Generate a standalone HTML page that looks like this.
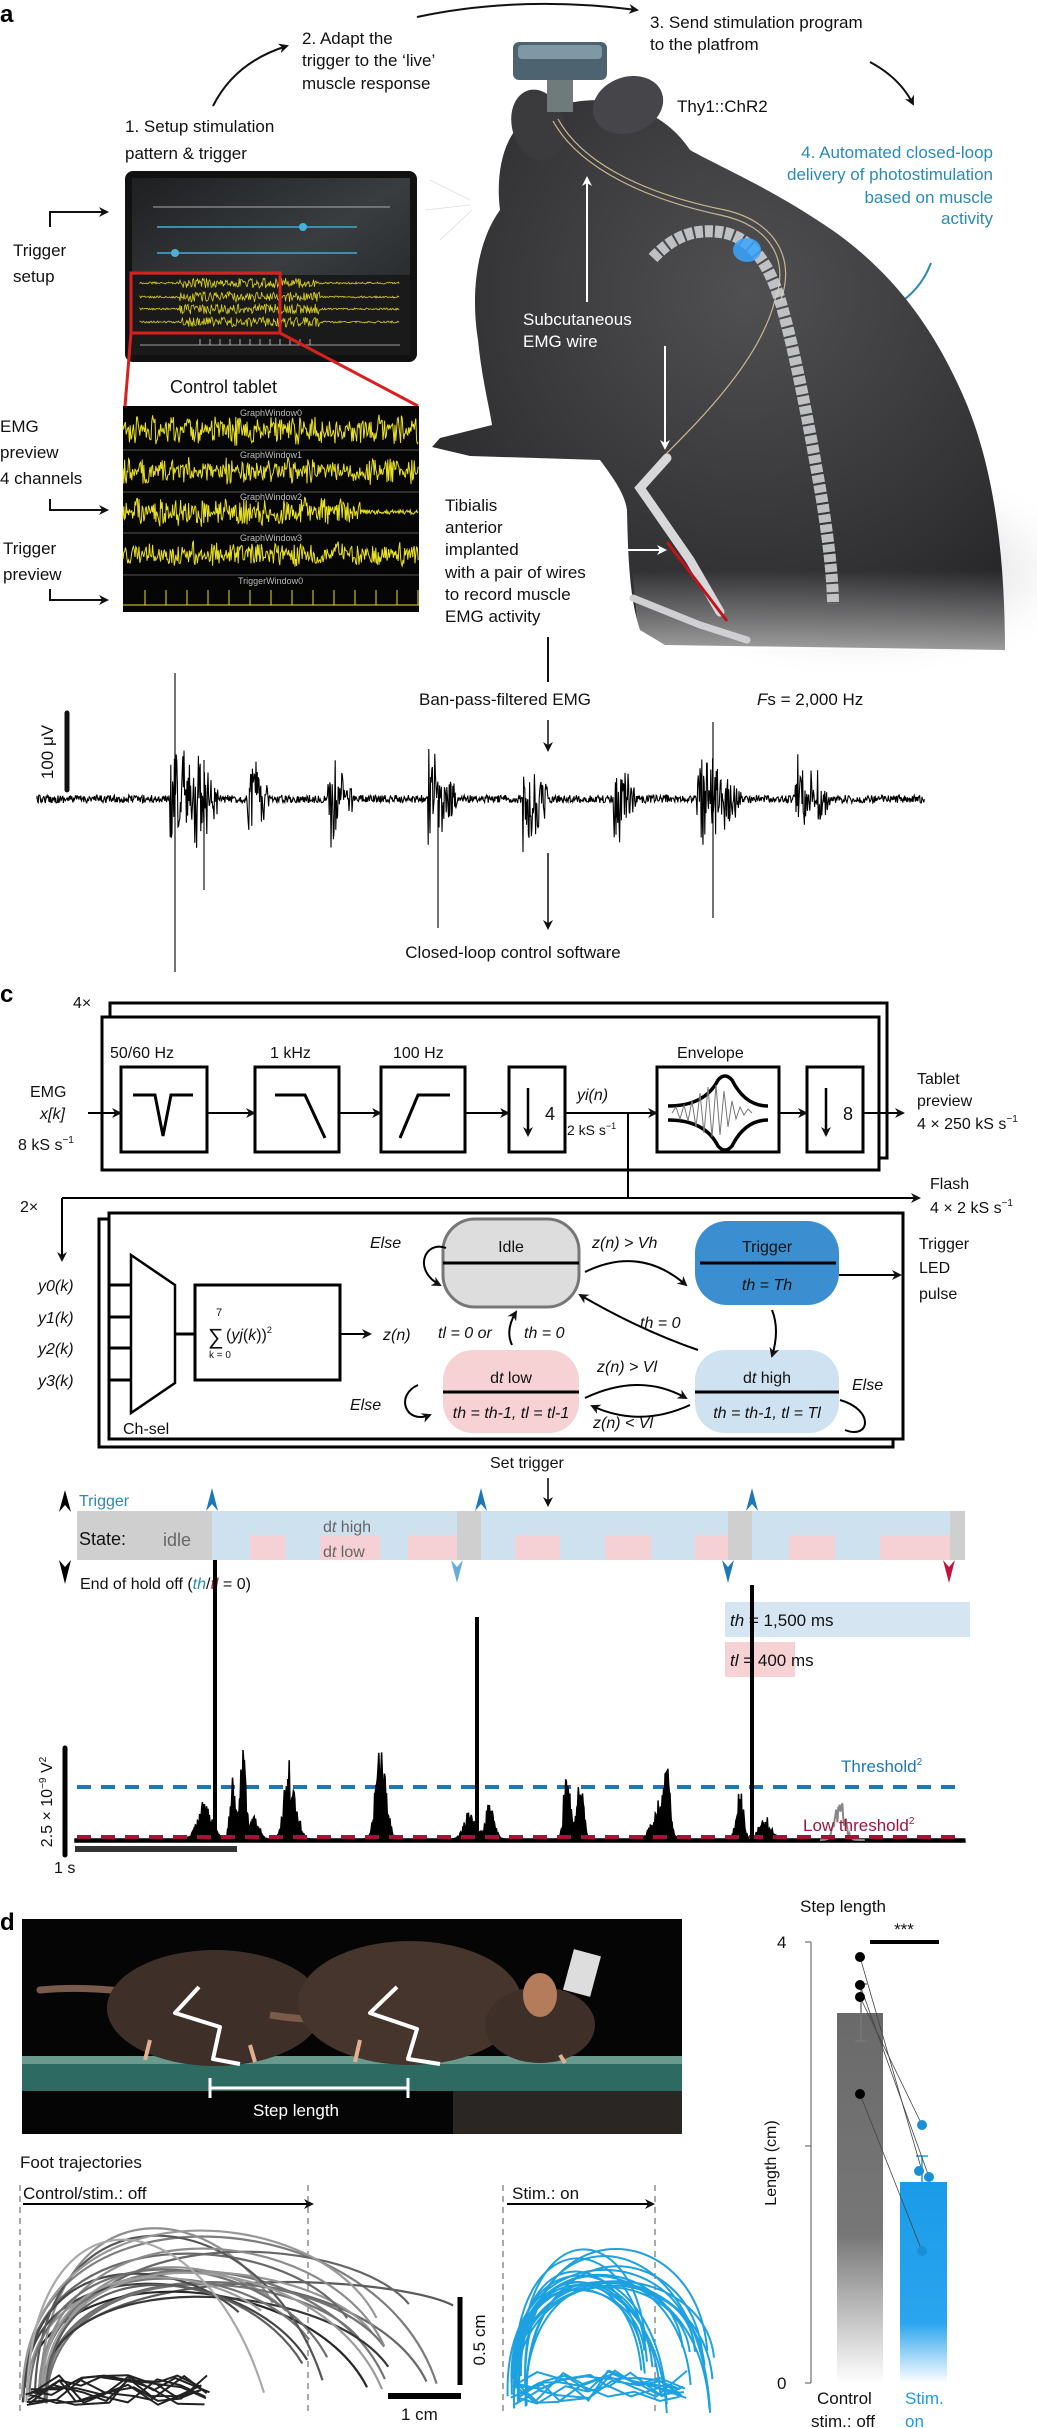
<!DOCTYPE html>
<html><head><meta charset="utf-8">
<style>
html,body{margin:0;padding:0;background:#fff;}
svg{display:block;}
text{font-family:"Liberation Sans Narrow","Liberation Sans",sans-serif;}
.t{font-size:17px;fill:#111;}
.s{font-size:16px;fill:#111;}
.i{font-style:italic;}
</style></head><body>
<svg id="S" width="1037" height="2428" viewBox="0 0 1037 2428" xmlns="http://www.w3.org/2000/svg">
<defs>
<marker id="ah" markerWidth="10" markerHeight="10" refX="8" refY="5" orient="auto" markerUnits="userSpaceOnUse"><path d="M0,0 L10,5 L0,10 L3,5 Z" fill="#111"/></marker>
<marker id="ahw" markerWidth="10" markerHeight="10" refX="8" refY="5" orient="auto" markerUnits="userSpaceOnUse"><path d="M0,0 L10,5 L0,10 L3,5 Z" fill="#fff"/></marker>
<marker id="ahb" markerWidth="10" markerHeight="10" refX="8" refY="5" orient="auto" markerUnits="userSpaceOnUse"><path d="M0,0 L10,5 L0,10 L3,5 Z" fill="#2a8ab8"/></marker>
<radialGradient id="mg" cx="0.55" cy="0.35" r="0.75"><stop offset="0" stop-color="#505053"/><stop offset="0.7" stop-color="#323234"/><stop offset="1" stop-color="#222224"/></radialGradient>
<linearGradient id="fade" x1="0" y1="0" x2="0" y2="1"><stop offset="0.6" stop-color="#fff" stop-opacity="0"/><stop offset="1" stop-color="#fff" stop-opacity="0.55"/></linearGradient>
<radialGradient id="sh" cx="0.5" cy="0.5" r="0.5"><stop offset="0" stop-color="#777" stop-opacity="0.8"/><stop offset="1" stop-color="#fff" stop-opacity="0"/></radialGradient>
<linearGradient id="gb" x1="0" y1="0" x2="0" y2="1"><stop offset="0" stop-color="#6a6a6a"/><stop offset="0.6" stop-color="#777"/><stop offset="1" stop-color="#fff"/></linearGradient>
<linearGradient id="bb" x1="0" y1="0" x2="0" y2="1"><stop offset="0" stop-color="#1a9be8"/><stop offset="0.7" stop-color="#2aa5ee"/><stop offset="1" stop-color="#fff"/></linearGradient>
<linearGradient id="tab" x1="0" y1="0" x2="1" y2="1"><stop offset="0" stop-color="#1d1f21"/><stop offset="0.5" stop-color="#3a3d40"/><stop offset="1" stop-color="#1d1f21"/></linearGradient>
</defs>

<!-- ============ PANEL A ============ -->
<text x="0" y="22" style="font-size:24px;font-weight:bold;font-family:'Liberation Sans',sans-serif">a</text>
<path d="M417,17 Q520,-5 637,10" fill="none" stroke="#111" stroke-width="2" marker-end="url(#ah)"/>
<path d="M213,106 Q235,62 287,46" fill="none" stroke="#111" stroke-width="2" marker-end="url(#ah)"/>
<path d="M870,62 Q900,78 913,104" fill="none" stroke="#111" stroke-width="2" marker-end="url(#ah)"/>
<path d="M931,263 Q920,292 893,307" fill="none" stroke="#2a8ab8" stroke-width="2" marker-end="url(#ahb)"/>
<text class="t" x="650" y="28">3. Send stimulation program</text>
<text class="t" x="650" y="50">to the platfrom</text>
<text class="t" x="302" y="44">2. Adapt the</text>
<text class="t" x="302" y="66">trigger to the ‘live’</text>
<text class="t" x="302" y="89">muscle response</text>
<text class="t" x="125" y="132">1. Setup stimulation</text>
<text class="t" x="125" y="159">pattern &amp; trigger</text>

<ellipse cx="860" cy="570" rx="240" ry="110" fill="url(#sh)"/>
<path d="M530,118 C505,130 495,170 500,210 C478,240 470,290 478,340 C482,380 490,410 492,425 L440,438 L432,447 L470,456 L600,460 C615,480 625,495 627,510 C628,560 630,600 640,630 L665,645 L1005,650 C1005,560 995,470 965,400 C935,330 895,275 835,232 C775,190 722,168 690,150 C670,120 640,105 600,100 C570,100 545,108 530,118 Z" fill="url(#mg)"/>
<path d="M620,450 L1005,450 L1005,650 L640,650 Z" fill="url(#fade)"/>
<ellipse cx="538" cy="125" rx="26" ry="36" fill="#3b3b3e" transform="rotate(-15 538 125)"/>
<ellipse cx="628" cy="105" rx="36" ry="28" fill="#46464a" transform="rotate(-20 628 105)"/>
<path d="M470,200 L430,180 M470,205 L425,210 M472,210 L440,240" stroke="#ddd" stroke-width="0.8"/>
<path d="M553,121 C580,170 650,200 720,215 C770,225 790,260 775,300 C760,360 700,420 665,455" fill="none" stroke="#c8b890" stroke-width="1.2"/>
<path d="M558,119 C585,168 655,196 725,210 C778,222 796,262 780,302" fill="none" stroke="#c8b890" stroke-width="1.2"/>
<path d="M653,258 C670,240 690,228 720,232 C750,236 768,262 780,300 C795,350 810,430 822,500 C830,550 833,585 833,604" fill="none" stroke="#d5d6d8" stroke-width="12" stroke-dasharray="8 2" opacity="0.85"/>
<ellipse cx="747" cy="250" rx="14" ry="12" fill="#39a6ff" opacity="0.85"/>
<path d="M667,458 L640,488 L690,560 L720,612" fill="none" stroke="#d8d8da" stroke-width="9" stroke-linecap="round"/>
<path d="M633,598 L700,625 L747,640" fill="none" stroke="#d0d0d2" stroke-width="7" stroke-linecap="round"/>
<path d="M667,542 L727,621" stroke="#c0141c" stroke-width="3"/>
<rect x="547" y="76" width="26" height="36" fill="#6f7b7a"/>
<rect x="513" y="42" width="94" height="38" rx="6" fill="#4d6470"/>
<rect x="518" y="45" width="84" height="14" rx="4" fill="#7f98a4"/>
<text class="t" x="677" y="112">Thy1::ChR2</text>
<text class="t" x="993" y="158" text-anchor="end" style="fill:#2a8ab8">4. Automated closed-loop</text>
<text class="t" x="993" y="180" text-anchor="end" style="fill:#2a8ab8">delivery of photostimulation</text>
<text class="t" x="993" y="203" text-anchor="end" style="fill:#2a8ab8">based on muscle</text>
<text class="t" x="993" y="224" text-anchor="end" style="fill:#2a8ab8">activity</text>
<line x1="587" y1="302" x2="587" y2="178" stroke="#fff" stroke-width="2" marker-end="url(#ahw)"/>
<line x1="665" y1="346" x2="665" y2="448" stroke="#fff" stroke-width="2" marker-end="url(#ahw)"/>
<text class="t" x="523" y="325" style="fill:#fff">Subcutaneous</text>
<text class="t" x="523" y="347" style="fill:#fff">EMG wire</text>
<text class="t" x="445" y="511">Tibialis</text>
<text class="t" x="445" y="533">anterior</text>
<text class="t" x="445" y="555">implanted</text>
<text class="t" x="445" y="578">with a pair of wires</text>
<text class="t" x="445" y="600">to record muscle</text>
<text class="t" x="445" y="622">EMG activity</text>
<line x1="557" y1="550" x2="665" y2="550" stroke="#fff" stroke-width="2" marker-end="url(#ahw)"/>

<rect x="125" y="171" width="292" height="191" rx="8" fill="#111"/>
<rect x="132" y="178" width="278" height="177" fill="url(#tab)"/>
<line x1="153" y1="207" x2="390" y2="207" stroke="#aaa" stroke-width="1"/>
<line x1="157" y1="227" x2="357" y2="227" stroke="#3a8fb0" stroke-width="2"/>
<circle cx="303" cy="227" r="4" fill="#4ab0d8"/>
<line x1="157" y1="253" x2="357" y2="253" stroke="#3a8fb0" stroke-width="2"/>
<circle cx="175" cy="253" r="4" fill="#4ab0d8"/>
<rect x="132" y="275" width="278" height="80" fill="#1a1a1a"/>
<g id="tabw"></g>
<rect x="131" y="273" width="149" height="60" fill="none" stroke="#d82020" stroke-width="3"/>
<line x1="131" y1="333" x2="125" y2="406" stroke="#d82020" stroke-width="3"/>
<line x1="280" y1="333" x2="418" y2="406" stroke="#d82020" stroke-width="3"/>
<text class="t" x="170" y="393" style="font-size:18px">Control tablet</text>
<rect x="123" y="406" width="296" height="206" fill="#050505"/>
<g stroke="#555" stroke-width="1"><line x1="123" y1="450" x2="419" y2="450"/><line x1="123" y1="492" x2="419" y2="492"/><line x1="123" y1="533" x2="419" y2="533"/><line x1="123" y1="575" x2="419" y2="575"/></g>
<g id="emgp"></g>
<g><text x="240" y="416" style="font-size:9px;fill:#bbb">GraphWindow0</text><text x="240" y="458" style="font-size:9px;fill:#bbb">GraphWindow1</text><text x="240" y="500" style="font-size:9px;fill:#bbb">GraphWindow2</text><text x="240" y="541" style="font-size:9px;fill:#bbb">GraphWindow3</text><text x="238" y="584" style="font-size:9px;fill:#bbb">TriggerWindow0</text></g>
<path id="trg" fill="none" stroke="#e8e020" stroke-width="1"/>

<text class="t" x="13" y="256">Trigger</text>
<text class="t" x="13" y="282">setup</text>
<path d="M50,227 L50,212 L107,212" fill="none" stroke="#111" stroke-width="2" marker-end="url(#ah)"/>
<text class="t" x="0" y="432">EMG</text>
<text class="t" x="0" y="458">preview</text>
<text class="t" x="0" y="484">4 channels</text>
<path d="M50,499 L50,510 L107,510" fill="none" stroke="#111" stroke-width="2" marker-end="url(#ah)"/>
<text class="t" x="3" y="554">Trigger</text>
<text class="t" x="3" y="580">preview</text>
<path d="M50,589 L50,600 L107,600" fill="none" stroke="#111" stroke-width="2" marker-end="url(#ah)"/>

<line x1="548" y1="637" x2="548" y2="682" stroke="#111" stroke-width="2"/>
<text class="t" x="505" y="705" text-anchor="middle">Ban-pass-filtered EMG</text>
<text class="t" x="757" y="705"><tspan class="i">F</tspan>s = 2,000 Hz</text>
<line x1="548" y1="720" x2="548" y2="750" stroke="#111" stroke-width="1.5" marker-end="url(#ah)"/>
<line x1="67" y1="713" x2="67" y2="790" stroke="#111" stroke-width="5" stroke-linecap="round"/>
<text class="t" transform="translate(53,752) rotate(-90)" text-anchor="middle">100 μV</text>
<path id="emg" fill="none" stroke="#000" stroke-width="1.1"/>
<line x1="548" y1="853" x2="548" y2="928" stroke="#111" stroke-width="1.5" marker-end="url(#ah)"/>
<text class="t" x="513" y="958" text-anchor="middle">Closed-loop control software</text>

<!-- ============ PANEL C ============ -->
<text x="0" y="1002" style="font-size:24px;font-weight:bold;font-family:'Liberation Sans',sans-serif">c</text>
<text class="s" x="73" y="1008">4×</text>
<rect x="110" y="1003" width="777" height="155" fill="#fff" stroke="#000" stroke-width="3"/>
<rect x="102" y="1017" width="777" height="153" fill="#fff" stroke="#000" stroke-width="3"/>
<text class="s" x="110" y="1058">50/60 Hz</text>
<text class="s" x="270" y="1058">1 kHz</text>
<text class="s" x="393" y="1058">100 Hz</text>
<text class="s" x="677" y="1058">Envelope</text>
<text class="s" x="30" y="1097">EMG</text>
<text class="s i" x="40" y="1119">x[k]</text>
<text class="s" x="18" y="1150">8 kS s<tspan dy="-7" style="font-size:10px">−1</tspan></text>
<g fill="#fff" stroke="#000" stroke-width="3">
<rect x="121" y="1067" width="86" height="85"/><rect x="255" y="1067" width="84" height="85"/><rect x="381" y="1067" width="84" height="85"/><rect x="509" y="1067" width="56" height="85"/><rect x="657" y="1067" width="122" height="85"/><rect x="807" y="1067" width="56" height="85"/>
</g>
<g fill="none" stroke="#000" stroke-width="3">
<path d="M133,1095 L155,1095 L163,1136 L171,1095 L193,1095"/>
<path d="M275,1095 L305,1095 L325,1138"/>
<path d="M400,1138 L418,1095 L450,1095"/>
</g>
<line x1="528" y1="1088" x2="528" y2="1135" stroke="#000" stroke-width="2.5" marker-end="url(#ah)"/>
<text class="s" x="545" y="1120" style="font-size:18px">4</text>
<line x1="826" y1="1088" x2="826" y2="1135" stroke="#000" stroke-width="2.5" marker-end="url(#ah)"/>
<text class="s" x="843" y="1120" style="font-size:18px">8</text>
<path d="M668,1106 Q705,1106 718,1080 Q725,1072 732,1080 Q745,1106 768,1106 M668,1120 Q705,1120 718,1146 Q725,1154 732,1146 Q745,1120 768,1120" fill="none" stroke="#000" stroke-width="3.5"/>
<path d="M672,1113 l4,-6 l4,12 l4,-14 l4,16 l4,-20 l4,26 l4,-34 l4,40 l4,-46 l4,50 l4,-52 l4,50 l4,-44 l4,36 l4,-26 l4,18 l4,-12 l4,8 l4,-6 l4,4" fill="none" stroke="#777" stroke-width="1"/>
<g stroke="#000" stroke-width="2" fill="none">
<line x1="88" y1="1113" x2="120" y2="1113" marker-end="url(#ah)"/>
<line x1="207" y1="1113" x2="254" y2="1113" marker-end="url(#ah)"/>
<line x1="339" y1="1113" x2="380" y2="1113" marker-end="url(#ah)"/>
<line x1="465" y1="1113" x2="508" y2="1113" marker-end="url(#ah)"/>
<line x1="565" y1="1113" x2="656" y2="1113" marker-end="url(#ah)"/>
<line x1="779" y1="1113" x2="806" y2="1113" marker-end="url(#ah)"/>
<line x1="863" y1="1113" x2="903" y2="1113" marker-end="url(#ah)"/>
<path d="M628,1113 L628,1198"/>
<line x1="62" y1="1198" x2="919" y2="1198" marker-end="url(#ah)"/>
<line x1="62" y1="1198" x2="62" y2="1260" marker-end="url(#ah)"/>
</g>
<text class="s i" x="577" y="1100">yi(n)</text>
<text class="s" x="567" y="1135" style="font-size:14px">2 kS s<tspan dy="-6" style="font-size:9px">−1</tspan></text>
<text class="s" x="917" y="1084">Tablet</text>
<text class="s" x="917" y="1106">preview</text>
<text class="s" x="917" y="1129">4 × 250 kS s<tspan dy="-7" style="font-size:10px">−1</tspan></text>
<text class="s" x="20" y="1212">2×</text>
<text class="s" x="930" y="1189">Flash</text>
<text class="s" x="930" y="1213">4 × 2 kS s<tspan dy="-7" style="font-size:10px">−1</tspan></text>
<rect x="99" y="1219" width="794" height="228" fill="#fff" stroke="#000" stroke-width="3"/>
<rect x="109" y="1213" width="794" height="226" fill="#fff" stroke="#000" stroke-width="3"/>
<path d="M131,1255 L175,1285 L175,1383 L131,1413 Z" fill="#fff" stroke="#000" stroke-width="2.5"/>
<g stroke="#000" stroke-width="3"><line x1="109" y1="1285" x2="131" y2="1285"/><line x1="109" y1="1317" x2="131" y2="1317"/><line x1="109" y1="1348" x2="131" y2="1348"/><line x1="109" y1="1380" x2="131" y2="1380"/><line x1="175" y1="1334" x2="195" y2="1334"/></g>
<text class="s i" x="38" y="1291">y0(k)</text>
<text class="s i" x="38" y="1323">y1(k)</text>
<text class="s i" x="38" y="1354">y2(k)</text>
<text class="s i" x="38" y="1386">y3(k)</text>
<text class="s" x="123" y="1434">Ch-sel</text>
<rect x="195" y="1285" width="145" height="95" fill="#fff" stroke="#000" stroke-width="3"/>
<text class="s" x="216" y="1316" style="font-size:11px">7</text>
<text class="s" x="208" y="1344" style="font-size:22px">∑</text><text class="s" x="226" y="1340">(<tspan class="i">yj</tspan>(<tspan class="i">k</tspan>))<tspan dy="-7" style="font-size:9px">2</tspan></text>
<text class="s" x="209" y="1358" style="font-size:10px">k = 0</text>
<line x1="340" y1="1334" x2="370" y2="1334" stroke="#000" stroke-width="2" marker-end="url(#ah)"/>
<text class="s i" x="383" y="1340">z(n)</text>
<rect x="443" y="1219" width="136" height="88" rx="32" fill="#ddd" stroke="#777" stroke-width="3"/>
<line x1="443" y1="1263" x2="579" y2="1263" stroke="#000" stroke-width="3"/>
<text class="s" x="511" y="1252" text-anchor="middle">Idle</text>
<rect x="695" y="1221" width="144" height="84" rx="32" fill="#3b8fd0"/>
<line x1="700" y1="1263" x2="836" y2="1263" stroke="#000" stroke-width="3"/>
<text class="s" x="767" y="1252" text-anchor="middle">Trigger</text>
<text class="s i" x="767" y="1290" text-anchor="middle">th = Th</text>
<rect x="443" y="1350" width="136" height="83" rx="30" fill="#f7d2d5"/>
<line x1="443" y1="1392" x2="579" y2="1392" stroke="#000" stroke-width="3"/>
<text class="s" x="511" y="1383" text-anchor="middle">d<tspan class="i">t</tspan> low</text>
<text class="s i" x="511" y="1418" text-anchor="middle">th = th-1, tl = tl-1</text>
<rect x="695" y="1350" width="144" height="83" rx="30" fill="#cfe2f2"/>
<line x1="695" y1="1392" x2="839" y2="1392" stroke="#000" stroke-width="3"/>
<text class="s" x="767" y="1383" text-anchor="middle">d<tspan class="i">t</tspan> high</text>
<text class="s i" x="767" y="1418" text-anchor="middle">th = th-1, tl = Tl</text>
<g fill="none" stroke="#000" stroke-width="2">
<path d="M446,1248 C425,1240 412,1270 440,1285" marker-end="url(#ah)"/>
<path d="M585,1272 Q640,1245 686,1285" marker-end="url(#ah)"/>
<path d="M772,1310 Q780,1330 772,1356" marker-end="url(#ah)"/>
<path d="M698,1350 Q640,1330 580,1295" marker-end="url(#ah)"/>
<path d="M512,1345 Q505,1330 516,1312" marker-end="url(#ah)"/>
<path d="M585,1398 Q640,1372 686,1398" marker-end="url(#ah)"/>
<path d="M690,1405 Q640,1428 592,1406" marker-end="url(#ah)"/>
<path d="M418,1385 C395,1395 405,1425 430,1415" marker-end="url(#ah)"/>
<path d="M840,1400 C875,1410 870,1440 845,1430"/>
<line x1="839" y1="1275" x2="900" y2="1275" marker-end="url(#ah)"/>
</g>
<text class="s i" x="370" y="1248">Else</text>
<text class="s i" x="592" y="1248">z(n) &gt; Vh</text>
<text class="s i" x="640" y="1328">th = 0</text>
<text class="s i" x="438" y="1338">tl = 0 or</text>
<text class="s i" x="524" y="1338">th = 0</text>
<text class="s i" x="597" y="1372">z(n) &gt; Vl</text>
<text class="s i" x="593" y="1428">z(n) &lt; Vl</text>
<text class="s i" x="852" y="1390">Else</text>
<text class="s i" x="350" y="1410">Else</text>
<text class="s" x="919" y="1249">Trigger</text>
<text class="s" x="919" y="1273">LED</text>
<text class="s" x="919" y="1299">pulse</text>
<text class="s" x="490" y="1468">Set trigger</text>
<line x1="548" y1="1478" x2="548" y2="1505" stroke="#000" stroke-width="1.5" marker-end="url(#ah)"/>

<rect x="77" y="1511" width="888" height="49" fill="#cde1ee"/>
<g fill="#cfcfcf"><rect x="77" y="1511" width="135" height="49"/><rect x="457" y="1511" width="24" height="49"/><rect x="728" y="1511" width="24" height="49"/><rect x="950" y="1511" width="15" height="49"/></g>
<g fill="#f5d0d4"><rect x="250" y="1535" width="35" height="25"/><rect x="320" y="1535" width="60" height="25"/><rect x="408" y="1535" width="49" height="25"/><rect x="515" y="1535" width="45" height="25"/><rect x="605" y="1535" width="46" height="25"/><rect x="695" y="1535" width="33" height="25"/><rect x="789" y="1535" width="46" height="25"/><rect x="880" y="1535" width="70" height="25"/></g>
<text class="s" x="79" y="1545" style="font-size:18px">State:</text>
<text class="s" x="163" y="1546" style="fill:#666;font-size:18px">idle</text>
<text class="s" x="323" y="1532" style="fill:#666">d<tspan class="i">t</tspan> high</text>
<text class="s" x="323" y="1557" style="fill:#666">d<tspan class="i">t</tspan> low</text>
<text class="s" x="79" y="1506" style="fill:#2a8ab8">Trigger</text>
<g id="arrs"></g>
<text class="s" x="80" y="1589">End of hold off (<tspan class="i" style="fill:#2a8ab8">th</tspan>/<tspan class="i" style="fill:#c0143c">tl</tspan> = 0)</text>
<rect x="725" y="1602" width="245" height="35" fill="#d5e6f2"/>
<rect x="725" y="1642" width="70" height="35" fill="#f7d2d5"/>
<text class="s i" x="730" y="1626" style="font-size:17px">th<tspan style="font-style:normal"> = 1,500 ms</tspan></text>
<text class="s i" x="730" y="1666" style="font-size:17px">tl<tspan style="font-style:normal"> = 400 ms</tspan></text>
<line x1="77" y1="1787" x2="965" y2="1787" stroke="#1a78b8" stroke-width="4" stroke-dasharray="14 10"/>
<path id="env" fill="#000" stroke="#000" stroke-width="1.5"/>
<path id="envg" fill="none" stroke="#888" stroke-width="2"/>
<line x1="77" y1="1837" x2="965" y2="1837" stroke="#a0143c" stroke-width="4" stroke-dasharray="14 10"/>
<g stroke="#000" stroke-width="4"><line x1="215" y1="1840" x2="215" y2="1560"/><line x1="477" y1="1840" x2="477" y2="1617"/><line x1="752" y1="1840" x2="752" y2="1585"/></g>
<text class="s" x="841" y="1772" style="fill:#1a78b8;font-size:17px">Threshold<tspan dy="-7" style="font-size:10px">2</tspan></text>
<text class="s" x="803" y="1831" style="fill:#a0143c;font-size:17px">Low threshold<tspan dy="-7" style="font-size:10px">2</tspan></text>
<line x1="65" y1="1748" x2="65" y2="1855" stroke="#000" stroke-width="5" stroke-linecap="round"/>
<text class="s" transform="translate(52,1802) rotate(-90)" text-anchor="middle">2.5 × 10<tspan dy="-6" style="font-size:10px">−9</tspan><tspan dy="6"> V</tspan><tspan dy="-6" style="font-size:10px">2</tspan></text>
<line x1="75" y1="1849" x2="237" y2="1849" stroke="#333" stroke-width="6"/>
<text class="s" x="54" y="1873">1 s</text>

<!-- ============ PANEL D ============ -->
<text x="0" y="1930" style="font-size:24px;font-weight:bold;font-family:'Liberation Sans',sans-serif">d</text>
<rect x="22" y="1919" width="660" height="215" fill="#050505"/>
<rect x="22" y="2056" width="660" height="35" fill="#2c6a62"/>
<rect x="22" y="2056" width="660" height="8" fill="#6a9a8e"/>
<rect x="453" y="2091" width="229" height="43" fill="#2a2624"/>
<path d="M150,1995 Q90,1985 40,1990" stroke="#7a5a4a" stroke-width="7" fill="none" stroke-linecap="round"/>
<ellipse cx="215" cy="2008" rx="108" ry="58" fill="#3e3028"/>
<path d="M340,2020 Q300,2020 270,2015" stroke="#7a5a4a" stroke-width="7" fill="none"/>
<ellipse cx="410" cy="2003" rx="112" ry="62" fill="#45352c"/>
<ellipse cx="540" cy="2025" rx="55" ry="38" fill="#3e3028"/>
<ellipse cx="540" cy="1995" rx="17" ry="22" fill="#b47c5a"/>
<rect x="568" y="1952" width="28" height="42" fill="#ddd" transform="rotate(15 582 1973)"/>
<g stroke="#e2b090" stroke-width="4"><line x1="150" y1="2040" x2="145" y2="2060"/><line x1="250" y1="2045" x2="255" y2="2062"/><line x1="360" y1="2040" x2="355" y2="2062"/><line x1="560" y1="2055" x2="565" y2="2063"/></g>
<g fill="none" stroke="#fff" stroke-width="4" stroke-linejoin="round"><path d="M199,1987 L175,2013 L220,2027 L213,2059 L240,2064"/><path d="M397,1987 L370,2013 L417,2029 L408,2059 L440,2064"/></g>
<g stroke="#fff" stroke-width="3"><line x1="210" y1="2088" x2="408" y2="2088"/><line x1="210" y1="2078" x2="210" y2="2098"/><line x1="408" y1="2078" x2="408" y2="2098"/></g>
<text class="t" x="253" y="2116" style="fill:#fff">Step length</text>

<text class="t" x="20" y="2168">Foot trajectories</text>
<text class="t" x="23" y="2199">Control/stim.: off</text>
<line x1="23" y1="2204" x2="312" y2="2204" stroke="#000" stroke-width="2" marker-end="url(#ah)"/>
<text class="t" x="512" y="2199">Stim.: on</text>
<line x1="507" y1="2204" x2="653" y2="2204" stroke="#000" stroke-width="2" marker-end="url(#ah)"/>
<g stroke="#555" stroke-width="1" stroke-dasharray="6 5"><line x1="20" y1="2185" x2="20" y2="2415"/><line x1="308" y1="2185" x2="308" y2="2415"/><line x1="503" y1="2185" x2="503" y2="2415"/><line x1="655" y1="2185" x2="655" y2="2415"/></g>
<g id="traj"></g>
<line x1="460" y1="2297" x2="460" y2="2385" stroke="#000" stroke-width="5"/>
<text class="t" transform="translate(485,2340) rotate(-90)" text-anchor="middle">0.5 cm</text>
<line x1="388" y1="2396" x2="461" y2="2396" stroke="#000" stroke-width="6"/>
<text class="t" x="401" y="2420">1 cm</text>

<text class="t" x="800" y="1912">Step length</text>
<line x1="811" y1="1942" x2="811" y2="2383" stroke="#555" stroke-width="1"/>
<g stroke="#555"><line x1="805" y1="1942" x2="811" y2="1942"/><line x1="805" y1="2146" x2="811" y2="2146"/><line x1="805" y1="2383" x2="811" y2="2383"/></g>
<text class="t" x="777" y="1948">4</text>
<text class="t" x="777" y="2389">0</text>
<text class="t" transform="translate(776,2163) rotate(-90)" text-anchor="middle" style="font-family:'Liberation Sans',sans-serif;font-size:16px">Length (cm)</text>
<rect x="837" y="2013" width="46" height="370" fill="url(#gb)"/>
<rect x="900" y="2182" width="47" height="201" fill="url(#bb)"/>
<g stroke="#777" stroke-width="1.5"><line x1="861" y1="1984" x2="861" y2="2041"/><line x1="855" y1="1984" x2="867" y2="1984"/><line x1="855" y1="2041" x2="867" y2="2041"/></g>
<g stroke="#1a9be8" stroke-width="1.5"><line x1="922" y1="2156" x2="922" y2="2182"/><line x1="916" y1="2156" x2="928" y2="2156"/></g>
<g stroke="#444" stroke-width="0.8"><line x1="860" y1="1957" x2="922" y2="2171"/><line x1="860" y1="1985" x2="929" y2="2177"/><line x1="860" y1="1997" x2="922" y2="2125"/><line x1="860" y1="2094" x2="922" y2="2251"/></g>
<g fill="#000"><circle cx="860" cy="1957" r="5"/><circle cx="860" cy="1985" r="5"/><circle cx="860" cy="1997" r="5"/><circle cx="860" cy="2094" r="5"/></g>
<g fill="#1a8fd8"><circle cx="922" cy="2125" r="5"/><circle cx="919" cy="2171" r="5"/><circle cx="929" cy="2177" r="5"/><circle cx="922" cy="2251" r="5"/></g>
<line x1="870" y1="1942" x2="939" y2="1942" stroke="#000" stroke-width="4"/>
<text class="t" x="904" y="1935" text-anchor="middle">***</text>
<text class="t" x="817" y="2404">Control</text>
<text class="t" x="811" y="2427">stim.: off</text>
<text class="t" x="905" y="2404" style="fill:#1a9be8">Stim.</text>
<text class="t" x="905" y="2427" style="fill:#1a9be8">on</text>
</svg>
<script>
var s=12345;function r(){s=(s*16807)%2147483647;return s/2147483647;}
function rn(){return r()*2-1;}
var NS="http://www.w3.org/2000/svg";
function add(g,tag,attrs){var e=document.createElementNS(NS,tag);for(var k in attrs)e.setAttribute(k,attrs[k]);g.appendChild(e);return e;}
var bursts=[[170,50,70],[247,22,50],[328,25,55],[428,30,58],[523,25,52],[613,25,55],[697,45,55],[795,35,48]];
var d="M37 799";
for(var x=37;x<=925;x+=0.6){var a=4;for(var i=0;i<bursts.length;i++){var b=bursts[i];if(x>=b[0]&&x<=b[0]+b[1]){var f=1-(x-b[0])/b[1];a+=b[2]*Math.sqrt(f)*(0.3+0.7*r());}}d+=" L"+x.toFixed(1)+" "+(799+rn()*a).toFixed(1);}
d+=" M175 673 L175 972 M438 800 L438 928 M713 722 L713 918 M204 760 L204 890";
document.getElementById("emg").setAttribute("d",d);
var g=document.getElementById("emgp");
var rows=[[430,16],[471,14],[512,15],[554,13]];
for(var j=0;j<4;j++){var yc=rows[j][0],A=rows[j][1];var p="M123 "+yc;for(var x=123;x<=419;x+=0.8){var env=0.35+0.65*Math.abs(Math.sin(x/6.5+j));if(j==2&&x>360)env=0.15;p+=" L"+x.toFixed(1)+" "+(yc+rn()*A*env).toFixed(1);}add(g,"path",{d:p,fill:"none",stroke:"#e8e020","stroke-width":"1"});}
var t="M123 605 L419 605";for(var x=145;x<419;x+=21){t+=" M"+x+" 605 L"+x+" 590";}
document.getElementById("trg").setAttribute("d",t);
var tg=document.getElementById("tabw");
var tr=[283,297,309,322];
for(var j=0;j<4;j++){var p="M140 "+tr[j];for(var x=140;x<=400;x+=0.8){var env=(x>180&&x<320)?1:0.2;p+=" L"+x.toFixed(1)+" "+(tr[j]+rn()*5*env).toFixed(1);}add(tg,"path",{d:p,fill:"none",stroke:"#d8d020","stroke-width":"0.8"});}
var tt="M140 345 L400 345";for(var x=200;x<320;x+=10)tt+=" M"+x+" 345 L"+x+" 339";add(tg,"path",{d:tt,stroke:"#ccc","stroke-width":"0.8",fill:"none"});
var cl=[[205,10,40],[233,4,65],[243,4,95],[255,6,25],[288,6,75],[296,6,30],[379,6,80],[385,6,40],[470,8,30],[490,6,40],[567,4,90],[580,5,60],[660,10,40],[667,4,60],[740,5,50],[765,8,25]];
var e="M75 1840";
for(var x=75;x<=965;x+=0.7){var h=1;for(var i=0;i<cl.length;i++){var c=cl[i];var z=(x-c[0])/c[1];h+=c[2]*Math.exp(-z*z)*(0.4+0.6*r());}e+=" L"+x.toFixed(1)+" "+(1840-h).toFixed(1);}
e+=" L965 1842 L75 1842 Z";
document.getElementById("env").setAttribute("d",e);
var eg="M820 1840";for(var x=820;x<=865;x+=0.7){var z=(x-840)/7;eg+=" L"+x.toFixed(1)+" "+(1840-45*Math.exp(-z*z)*(0.4+0.6*r())).toFixed(1);}
document.getElementById("envg").setAttribute("d",eg);
var ag=document.getElementById("arrs");
function up(x,y0,y1,c){add(ag,"path",{d:"M"+x+" "+y0+" L"+(x+6)+" "+y1+" L"+x+" "+(y1-7)+" L"+(x-6)+" "+y1+" Z",fill:c});}
function dn(x,y0,y1,c){add(ag,"path",{d:"M"+x+" "+y1+" L"+(x+6)+" "+y0+" L"+x+" "+(y0+7)+" L"+(x-6)+" "+y0+" Z",fill:c});}
up(65,1490,1512,"#000");up(212,1488,1511,"#1a78b8");up(481,1488,1511,"#1a78b8");up(752,1488,1511,"#1a78b8");
dn(65,1560,1584,"#000");dn(457,1560,1583,"#6aaad8");dn(728,1560,1583,"#1a78b8");dn(949,1560,1583,"#c0143c");
var jg=document.getElementById("traj");
for(var i=0;i<24;i++){var sx=22+r()*25,sy=2385+r()*20,ex=sx+200+r()*240,ey=2300+r()*95,pk=2215+r()*95;var gv=Math.floor(40+r()*150);
add(jg,"path",{d:"M"+sx+" "+sy+" C"+(sx+5)+" "+(pk-40)+" "+(ex-60)+" "+(pk-20)+" "+ex+" "+ey,fill:"none",stroke:"rgb("+gv+","+gv+","+gv+")","stroke-width":"2.2"});}
for(var i=0;i<10;i++){var p="M"+(25+r()*10)+" "+(2385+r()*20);for(var k=1;k<8;k++)p+=" L"+(25+k*25+r()*10)+" "+(2375+r()*30);add(jg,"path",{d:p,fill:"none",stroke:"#222","stroke-width":"2"});}
for(var i=0;i<22;i++){var sx=507+r()*20,sy=2370+r()*40,ex=640+r()*75,ey=2330+r()*85,pk=2244+r()*60;
add(jg,"path",{d:"M"+sx+" "+sy+" C"+(sx-5)+" "+(pk-40)+" "+(ex-10)+" "+(pk-30)+" "+ex+" "+ey,fill:"none",stroke:"#1da1e0","stroke-width":"2"});}
for(var i=0;i<10;i++){var p="M"+(510+r()*10)+" "+(2375+r()*30);for(var k=1;k<8;k++)p+=" L"+(510+k*24+r()*10)+" "+(2370+r()*35);add(jg,"path",{d:p,fill:"none",stroke:"#1da1e0","stroke-width":"2"});}
</script>
</body></html>
